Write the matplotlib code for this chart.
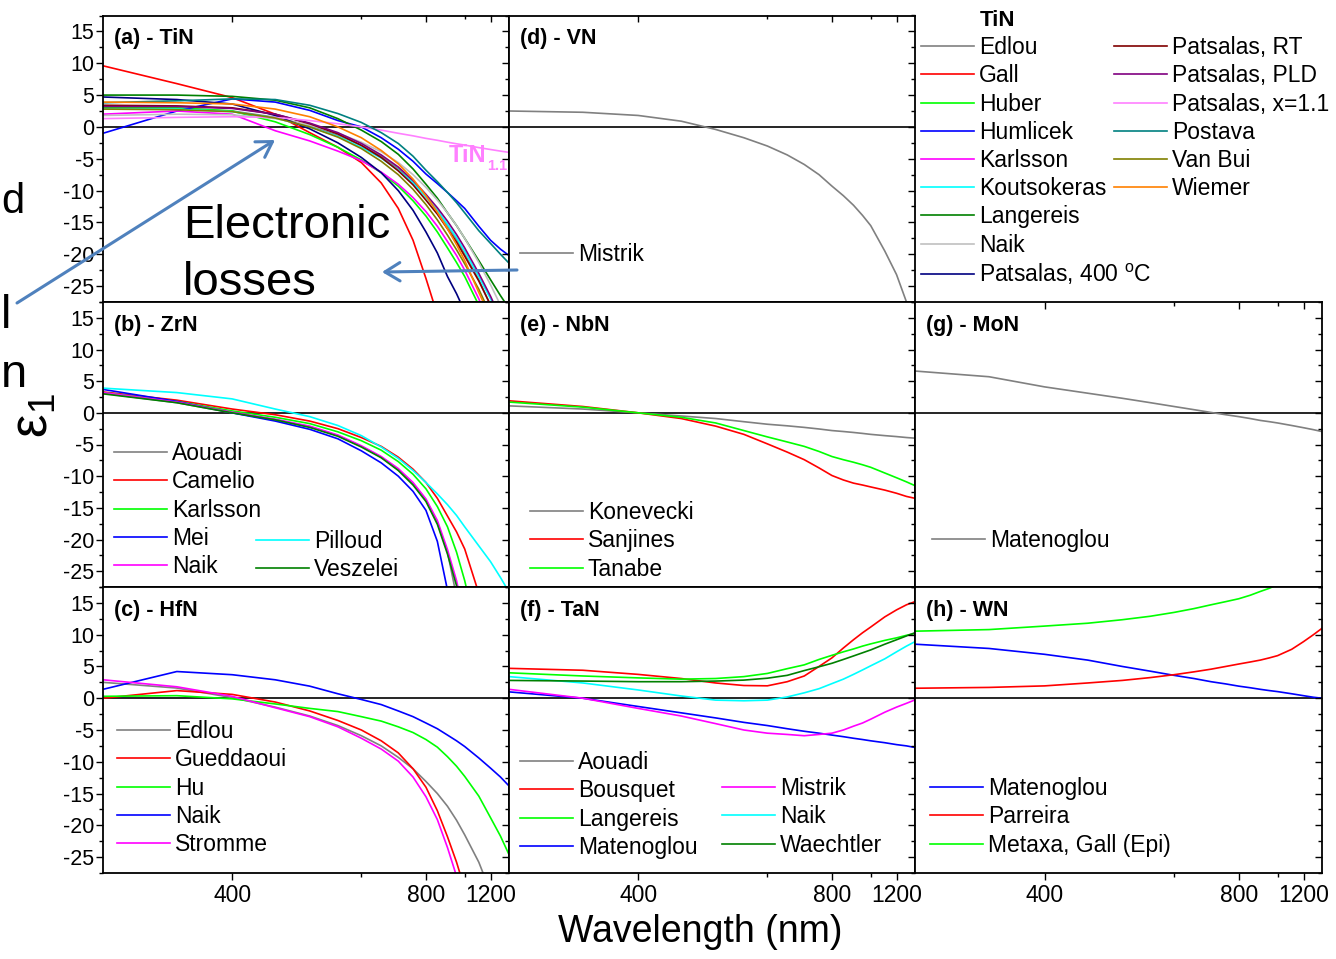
import numpy as np
import matplotlib.pyplot as plt
from matplotlib.ticker import MultipleLocator, FixedLocator, FuncFormatter
from matplotlib.patches import FancyArrowPatch

plt.rcParams['font.family'] = ['Liberation Sans', 'DejaVu Sans']
plt.rcParams['axes.unicode_minus'] = False
plt.rcParams['mathtext.default'] = 'regular'

# ---------------- data: wavelength (nm) and eps1 ----------------
wl = [300, 350, 400, 450, 500, 550, 600, 650, 700, 750, 800, 850, 900, 950,
      1000, 1100, 1200, 1300, 1400]

# (a) TiN
tin_labels = ['Edlou', 'Gall', 'Huber', 'Humlicek', 'Karlsson', 'Koutsokeras',
              'Langereis', 'Naik', 'Patsalas, 400 $^{o}$C',
              'Patsalas, RT', 'Patsalas, PLD', 'Patsalas, x=1.1', 'Postava',
              'Van Bui', 'Wiemer']
tin_edlou = [3.0, 2.9, 2.5, 1.5, 0.2, -1.3, -2.9, -4.6, -6.6, -8.7, -11.0, -13.2, -15.5, -17.7, -20.0, -24.0, -28.0]
tin_gall = [9.6, 6.8, 4.6, 2.0, -0.9, -3.2, -5.6, -8.8, -12.8, -17.8, -23.8, -29.5]
tin_huber = [3.0, 3.0, 2.5, 0.8, -1.2, -3.2, -5.2, -7.2, -9.3, -11.6, -14.0, -16.5, -19.0, -21.3, -23.5, -28.0]
tin_humlicek = [-1.0, 2.5, 4.4, 3.9, 2.6, 1.0, 0.0, -1.7, -3.5, -5.4, -7.4, -8.9, -10.3, -11.6, -12.8, -15.6, -17.8, -19.2, -20.2]
tin_karlsson = [2.0, 2.5, 2.0, -0.6, -2.2, -3.8, -5.3, -7.1, -9.0, -11.1, -13.3, -15.6, -18.0, -20.2, -22.5, -27.0, -31.5]
tin_koutsokeras = [2.8, 2.8, 2.4, 1.4, 0.0, -1.5, -3.2, -4.9, -6.8, -8.8, -11.0, -13.1, -15.3, -17.4, -19.5, -23.5, -27.0, -30.0]
tin_langereis = [5.0, 5.0, 4.8, 4.2, 3.0, 1.3, -0.5, -2.3, -4.3, -6.6, -9.0, -11.2, -13.5, -15.5, -17.5, -21.0, -24.0, -26.5, -28.5]
tin_naik = [1.8, 2.0, 1.9, 1.3, 0.3, -1.0, -2.4, -3.9, -5.6, -7.5, -9.5, -11.5, -13.5, -15.5, -17.5, -21.3, -24.8, -28.0]
tin_patsalas_400 = [4.7, 4.3, 3.6, 1.8, -0.3, -2.5, -4.8, -7.2, -10.0, -13.1, -16.5, -19.8, -23.5, -26.2, -29.0]
tin_patsalas_rt = [3.4, 3.3, 3.0, 2.0, 0.5, -1.1, -2.9, -4.8, -6.9, -9.1, -11.5, -13.7, -16.0, -18.1, -20.3, -24.2, -28.0]
tin_patsalas_pld = [3.2, 3.2, 2.9, 2.0, 0.6, -0.9, -2.6, -4.4, -6.3, -8.4, -10.6, -12.7, -14.8, -16.9, -19.0, -23.0, -26.6, -30.0]
tin_patsalas_x11 = [1.3, 1.5, 1.6, 1.5, 1.0, 0.5, 0.0, -0.5, -1.0, -1.4, -1.8, -2.1, -2.4, -2.65, -2.85, -3.25, -3.55, -3.8, -4.0]
tin_postava = [3.8, 4.1, 4.4, 4.3, 3.4, 2.1, 0.7, -0.9, -2.6, -4.6, -6.8, -8.6, -10.3, -11.9, -13.5, -16.3, -18.3, -20.0, -21.4]
tin_vanbui = [2.8, 2.7, 2.4, 1.4, 0.0, -1.6, -3.4, -5.4, -7.5, -9.8, -12.2, -14.6, -17.0, -19.3, -21.5, -25.5, -29.5]
tin_wiemer = [3.9, 3.8, 3.6, 2.8, 1.6, 0.0, -1.7, -3.7, -5.8, -8.2, -10.8, -13.4, -16.0, -18.5, -21.0, -26.0, -30.0]

# (b) ZrN
zrn_labels = ['Aouadi', 'Camelio', 'Karlsson', 'Mei', 'Naik', 'Pilloud', 'Veszelei']
zrn_aouadi = [3.1, 1.6, 0.0, -1.1, -2.2, -3.6, -5.3, -7.0, -9.0, -11.2, -13.8, -17.3, -22.0, -29.0]
zrn_camelio = [3.3, 2.0, 0.6, -0.3, -1.3, -2.5, -3.9, -5.3, -7.0, -8.9, -11.0, -13.5, -16.3, -18.8, -21.5, -28.5]
zrn_karlsson = [3.2, 1.8, 0.3, -0.7, -1.7, -3.0, -4.4, -5.9, -7.7, -9.7, -12.0, -14.8, -18.0, -22.0, -26.5, -36.0]
zrn_mei = [3.7, 1.8, 0.0, -1.3, -2.6, -4.1, -6.0, -7.9, -10.0, -12.4, -15.4, -20.3, -28.0]
zrn_naik = [3.2, 1.7, 0.1, -1.0, -2.1, -3.5, -5.2, -6.9, -8.8, -11.0, -13.6, -17.0, -21.6, -26.5, -32.5]
zrn_pilloud = [3.9, 3.2, 2.2, 0.6, -0.6, -2.0, -3.6, -5.4, -7.2, -9.1, -11.0, -12.8, -14.5, -16.2, -18.0, -21.0, -23.5, -26.0, -28.3]
zrn_veszelei = [3.0, 1.6, 0.0, -1.1, -2.3, -3.7, -5.4, -7.1, -9.1, -11.4, -14.0, -17.6, -22.3, -27.3, -33.5]

# (c) HfN
hfn_labels = ['Edlou', 'Gueddaoui', 'Hu', 'Naik', 'Stromme']
hfn_edlou = [2.5, 1.6, 0.1, -1.4, -2.8, -4.3, -5.9, -7.5, -9.3, -11.1, -13.1, -15.0, -17.0, -19.2, -21.5, -25.8, -30.5]
hfn_gueddaoui = [0.0, 1.2, 0.6, -0.6, -2.0, -3.5, -5.0, -6.7, -8.6, -11.1, -14.0, -17.7, -21.8, -25.8, -30.0]
hfn_hu = [0.3, 0.4, -0.1, -0.9, -1.6, -2.1, -2.9, -3.6, -4.5, -5.4, -6.5, -7.7, -9.2, -10.7, -12.3, -15.4, -18.8, -21.7, -24.6]
hfn_naik = [1.4, 4.2, 3.7, 2.9, 1.9, 0.7, -0.2, -1.0, -2.0, -2.9, -3.9, -4.8, -5.8, -6.7, -7.6, -9.4, -11.0, -12.4, -13.8]
hfn_stromme = [2.9, 1.8, 0.3, -1.5, -2.9, -4.5, -6.3, -8.0, -9.9, -12.4, -15.5, -19.1, -23.5, -28.0, -33.0]

# (d) VN
vn_labels = ['Mistrik']
vn_mistrik = [2.5, 2.3, 1.8, 0.9, -0.4, -1.7, -3.0, -4.4, -5.9, -7.5, -9.3, -10.8, -12.3, -13.9, -15.5, -19.5, -23.2, -27.5, -32.0]

# (e) NbN
nbn_labels = ['Konevecki', 'Sanjines', 'Tanabe']
nbn_konevecki = [1.1, 0.6, 0.0, -0.5, -0.9, -1.4, -1.8, -2.05, -2.3, -2.55, -2.8, -2.95, -3.1, -3.25, -3.4, -3.6, -3.75, -3.9, -4.0]
nbn_sanjines = [1.9, 1.0, 0.0, -0.9, -2.1, -3.4, -4.9, -6.2, -7.4, -8.7, -9.9, -10.6, -11.1, -11.4, -11.7, -12.2, -12.7, -13.2, -13.5]
nbn_tanabe = [1.7, 0.9, 0.0, -0.7, -1.6, -2.8, -3.8, -4.6, -5.3, -6.1, -6.9, -7.4, -7.8, -8.2, -8.6, -9.5, -10.25, -10.9, -11.5]

# (f) TaN
tan_labels = ['Aouadi', 'Bousquet', 'Langereis', 'Matenoglou', 'Mistrik', 'Naik', 'Waechtler']
tan_aouadi = []
tan_bousquet = [4.7, 4.4, 3.75, 3.1, 2.4, 2.0, 1.95, 2.6, 3.5, 5.0, 6.35, 7.9, 9.2, 10.3, 11.2, 12.8, 13.9, 14.7, 15.2]
tan_langereis = [4.0, 3.5, 3.2, 3.0, 3.1, 3.4, 3.9, 4.65, 5.25, 6.1, 6.75, 7.3, 7.75, 8.2, 8.55, 9.1, 9.5, 9.9, 10.2]
tan_matenoglou = [1.0, 0.0, -1.3, -2.3, -3.1, -3.8, -4.3, -4.8, -5.2, -5.5, -5.8, -6.05, -6.3, -6.5, -6.7, -7.0, -7.3, -7.5, -7.75]
tan_mistrik = [1.4, 0.0, -1.6, -2.8, -4.0, -5.0, -5.5, -5.7, -5.9, -5.7, -5.5, -5.0, -4.4, -3.9, -3.3, -2.2, -1.4, -0.8, -0.26]
tan_naik = [3.4, 2.4, 1.3, 0.35, -0.3, -0.4, -0.3, 0.2, 0.85, 1.5, 2.3, 3.0, 3.75, 4.45, 5.1, 6.2, 7.3, 8.2, 8.9]
tan_waechtler = [2.8, 2.7, 2.6, 2.6, 2.7, 2.85, 3.15, 3.6, 4.35, 4.95, 5.5, 6.1, 6.65, 7.15, 7.6, 8.5, 9.2, 9.8, 10.3]

# (g) MoN
mon_labels = ['Matenoglou']
mon_matenoglou = [6.6, 5.7, 4.1, 3.1, 2.3, 1.6, 1.0, 0.5, 0.06, -0.3, -0.6, -0.9, -1.2, -1.4, -1.6, -2.0, -2.35, -2.66, -2.96]

# (h) WN
wn_labels = ['Matenoglou', 'Parreira', 'Metaxa, Gall (Epi)']
wn_matenoglou = [8.5, 7.83, 6.91, 6.0, 5.0, 4.25, 3.6, 3.1, 2.6, 2.25, 1.9, 1.65, 1.4, 1.2, 1.04, 0.7, 0.4, 0.15, 0.0]
wn_parreira = [1.57, 1.7, 1.94, 2.4, 2.8, 3.25, 3.7, 4.15, 4.57, 5.0, 5.38, 5.7, 6.0, 6.35, 6.7, 7.7, 8.9, 10.0, 11.0]
wn_metaxa = [10.55, 10.8, 11.35, 11.8, 12.35, 12.9, 13.5, 14.1, 14.7, 15.2, 15.65, 16.2, 16.8, 17.3, 17.9, 19.5]

# ---------------- styling ----------------
GRAY, RED, LIME, BLUE = '#808080', '#ff0000', '#00ff00', '#0000ff'
MAG, CYAN, DKGREEN = '#ff00ff', '#00ffff', '#008000'
tin_colors = [GRAY, RED, LIME, BLUE, MAG, CYAN, DKGREEN, '#c0c0c0', '#000080',
              '#800000', '#800080', '#ff80ff', '#008080', '#808000', '#ff8000']

W, H = 1336, 959
fig = plt.figure(figsize=(W / 100, H / 100), dpi=100)


def fx(px):
    return px / W


def fy(py):
    return 1 - py / H


def fwd(w):
    # axis is linear in photon energy (1/wavelength)
    with np.errstate(divide='ignore', invalid='ignore'):
        return -1000.0 / np.asarray(w, dtype=float)


col_l = [103, 509, 915]
col_r = [509, 915, 1322]
row_t = [15.5, 302, 587]
row_b = [302, 587, 873]
YLIM = (-27.5, 17.5)
LW = 1.2


def set_xticks(a):
    a.set_xscale('function', functions=(fwd, fwd))
    a.set_xlim(300, 1400)
    a.xaxis.set_major_locator(FixedLocator([400, 800, 1200]))
    a.xaxis.set_minor_locator(FixedLocator([600, 1000]))
    a.xaxis.set_major_formatter(FuncFormatter(lambda v, p: '%d' % round(v)))


def make_ax(r, c, title):
    a = fig.add_axes([fx(col_l[c]), fy(row_b[r]), (col_r[c] - col_l[c]) / W,
                      (row_b[r] - row_t[r]) / H])
    set_xticks(a)
    a.set_ylim(*YLIM)
    a.yaxis.set_major_locator(MultipleLocator(5))
    a.yaxis.set_minor_locator(MultipleLocator(2.5))
    a.tick_params(which='both', direction='out', top=False, right=False,
                  labelbottom=(r == 2), labelleft=(c == 0), pad=1.5)
    a.tick_params(axis='x', labelsize=16.5, pad=3)
    a.tick_params(axis='y', labelsize=15.5)
    a.tick_params(which='major', length=4.8, width=1)
    a.tick_params(which='minor', length=2.6, width=1)
    for s in a.spines.values():
        s.set_linewidth(1.3)
    a.axhline(0, color='black', lw=1.2, zorder=1)
    a.text(0.027, 0.958 if r == 0 else 0.955, title, transform=a.transAxes,
           fontsize=15.5, fontweight='bold', va='top', ha='left')
    return a


def add_right_ticks(a):
    t = a.twinx()
    t.set_ylim(*YLIM)
    t.yaxis.set_major_locator(MultipleLocator(5))
    t.yaxis.set_minor_locator(MultipleLocator(2.5))
    t.tick_params(which='both', direction='in', labelright=False)
    t.tick_params(which='major', length=4.8, width=1)
    t.tick_params(which='minor', length=2.6, width=1)
    for s in t.spines.values():
        s.set_visible(False)


def add_top_ticks(a):
    t = a.twiny()
    set_xticks(t)
    t.tick_params(which='both', direction='in', labeltop=False)
    t.tick_params(which='major', length=4.8, width=1)
    t.tick_params(which='minor', length=2.6, width=1)
    for s in t.spines.values():
        s.set_visible(False)


def draw(a, x, series, colors):
    lines = []
    for v, c in zip(series, colors):
        ln, = a.plot(x[:len(v)], v, color=c, lw=LW, solid_joinstyle='round')
        lines.append(ln)
    return lines


def put_legend(handles, labels, x_px, y_px):
    # x_px: left end of the handle line, y_px: centre of the first row
    fig.legend(handles, labels, loc='upper left',
               bbox_to_anchor=(fx(x_px), fy(y_px - 9.8)),
               frameon=False, fontsize=16.5, handlelength=2.3,
               handletextpad=0.22, labelspacing=0.227, borderpad=0,
               borderaxespad=0)


ax_a = make_ax(0, 0, '(a) - TiN')
ax_b = make_ax(1, 0, '(b) - ZrN')
ax_c = make_ax(2, 0, '(c) - HfN')
ax_d = make_ax(0, 1, '(d) - VN')
ax_e = make_ax(1, 1, '(e) - NbN')
ax_f = make_ax(2, 1, '(f) - TaN')
ax_g = make_ax(1, 2, '(g) - MoN')
ax_h = make_ax(2, 2, '(h) - WN')

for a in (ax_a, ax_d, ax_g):
    add_top_ticks(a)
for a in (ax_d, ax_g, ax_h):
    add_right_ticks(a)

# (a) TiN
tin_series = [tin_edlou, tin_gall, tin_huber, tin_humlicek, tin_karlsson,
              tin_koutsokeras, tin_langereis, tin_naik, tin_patsalas_400,
              tin_patsalas_rt, tin_patsalas_pld, tin_patsalas_x11, tin_postava,
              tin_vanbui, tin_wiemer]
h_tin = draw(ax_a, wl, tin_series, tin_colors)
fig.text(fx(980), fy(26), 'TiN', fontsize=16, fontweight='bold', va='baseline')
put_legend(h_tin[:9], tin_labels[:9], 921, 46)
put_legend(h_tin[9:], tin_labels[9:], 1114, 46)
fig.text(fx(449), fy(162), 'TiN', color='#ff80ff', fontsize=17, fontweight='bold', va='baseline')
fig.text(fx(487), fy(170), '1.1', color='#ff80ff', fontsize=10.5, fontweight='bold', va='baseline')

# (b) ZrN
h_zrn = draw(ax_b, wl, [zrn_aouadi, zrn_camelio, zrn_karlsson, zrn_mei, zrn_naik,
                        zrn_pilloud, zrn_veszelei],
             [GRAY, RED, LIME, BLUE, MAG, CYAN, DKGREEN])
put_legend(h_zrn[:5], zrn_labels[:5], 114, 452)
put_legend(h_zrn[5:], zrn_labels[5:], 256, 540)

# (c) HfN
h_hfn = draw(ax_c, wl, [hfn_edlou, hfn_gueddaoui, hfn_hu, hfn_naik, hfn_stromme],
             [GRAY, RED, LIME, BLUE, MAG])
put_legend(h_hfn, hfn_labels, 117, 730)

# (d) VN
h_vn = draw(ax_d, wl, [vn_mistrik], [GRAY])
put_legend(h_vn, vn_labels, 520, 253)

# (e) NbN
h_nbn = draw(ax_e, wl, [nbn_konevecki, nbn_sanjines, nbn_tanabe], [GRAY, RED, LIME])
put_legend(h_nbn, nbn_labels, 530, 511)

# (f) TaN
h_tan = draw(ax_f, wl, [tan_aouadi, tan_bousquet, tan_langereis, tan_matenoglou,
                        tan_mistrik, tan_naik, tan_waechtler],
             [GRAY, RED, LIME, BLUE, MAG, CYAN, DKGREEN])
put_legend(h_tan[:4], tan_labels[:4], 520, 761)
put_legend(h_tan[4:], tan_labels[4:], 722, 787)

# (g) MoN
h_mon = draw(ax_g, wl, [mon_matenoglou], [GRAY])
put_legend(h_mon, mon_labels, 932, 539)

# (h) WN
h_wn = draw(ax_h, wl, [wn_matenoglou, wn_parreira, wn_metaxa], [BLUE, RED, LIME])
put_legend(h_wn, wn_labels, 930, 787)

# axis labels and annotations
fig.text(fx(700.5), fy(941.7), 'Wavelength (nm)', fontsize=27, ha='center', va='baseline')
fig.text(fx(34), fy(416), 'ε$_1$', fontsize=38, rotation=90, ha='center', va='center')

fig.text(fx(183), fy(238), 'Electronic', fontsize=34, va='baseline')
fig.text(fx(183), fy(295), 'losses', fontsize=34, va='baseline')

arrow_kw = dict(transform=fig.transFigure, arrowstyle='->,head_length=0.9,head_width=0.55',
                mutation_scale=12, color='#4f81bd', lw=2.2, shrinkA=0, shrinkB=0)
fig.add_artist(FancyArrowPatch((fx(17), fy(303)), (fx(275), fy(140)), **arrow_kw))
fig.add_artist(FancyArrowPatch((fx(517), fy(270)), (fx(382), fy(272)), **arrow_kw))

# letters at the left border
fig.text(fx(1.7), fy(213), 'd', fontsize=30, va='baseline')
fig.text(fx(0.5), fy(328), 'l', fontsize=34, va='baseline')
fig.text(fx(0.5), fy(387), 'n', fontsize=34, va='baseline')

fig.savefig('out.png', dpi=100)
